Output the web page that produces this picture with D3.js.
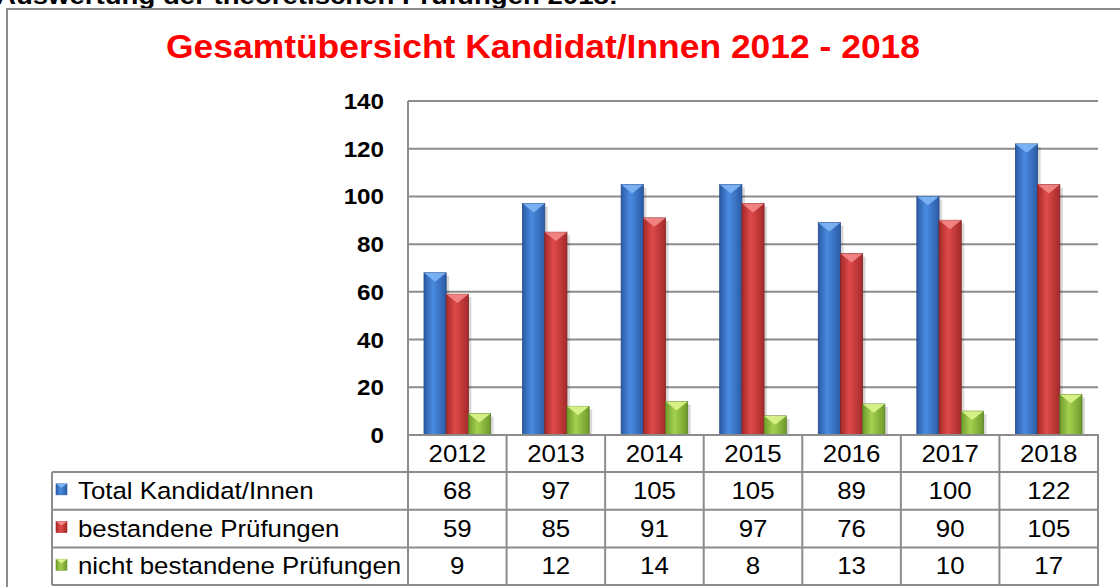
<!DOCTYPE html>
<html>
<head>
<meta charset="utf-8">
<script src="https://cdn.jsdelivr.net/npm/d3@7"></script>
<style>
  body { margin: 0; background: #fff; overflow: hidden; }
  svg { display: block; font-family: Arial, "Liberation Sans", sans-serif; }
</style>
</head>
<body>
<div id="chart"></div>
<script>
// data
var years = ["2012", "2013", "2014", "2015", "2016", "2017", "2018"];
var seriesNames = ["Total Kandidat/Innen", "bestandene Prüfungen", "nicht bestandene Prüfungen"];
var total = [68, 97, 105, 105, 89, 100, 122];
var passed = [59, 85, 91, 97, 76, 90, 105];
var failed = [9, 12, 14, 8, 13, 10, 17];
var yTicks = [0, 20, 40, 60, 80, 100, 120, 140];

var seriesValues = [total, passed, failed];
// colours: edge, middle, top bevel
var palette = [
    { dark: "#2b5ba6", light: "#4a8be0", top: "#7fb6f5" },
    { dark: "#a52a2a", light: "#df4a4a", top: "#f58a8a" },
    { dark: "#6e9a2c", light: "#a5d14f", top: "#dcf58c" }
];

var W = 1120, H = 587;
var sx = 1.1; // picture is a bit stretched horizontally
var gridCol = "#8c8c8c";

var svg = d3.select("#chart").append("svg")
    .attr("width", W).attr("height", H);

var defs = svg.append("defs");
palette.forEach(function (c, i) {
    var g = defs.append("linearGradient")
        .attr("id", "grad" + i)
        .attr("x1", "0%").attr("x2", "100%").attr("y1", "0%").attr("y2", "0%");
    g.append("stop").attr("offset", "0%").attr("stop-color", c.dark);
    g.append("stop").attr("offset", "40%").attr("stop-color", c.light);
    g.append("stop").attr("offset", "100%").attr("stop-color", c.dark);
});

// heading above the frame, cut off by the page top (as in the source)
svg.append("text")
    .attr("x", -4).attr("y", 4)
    .attr("font-size", 24).attr("font-weight", "bold").attr("fill", "#000")
    .attr("textLength", 622).attr("lengthAdjust", "spacingAndGlyphs")
    .text("Auswertung der theoretischen Prüfungen 2018:");

// frame
svg.append("rect")
    .attr("x", 7).attr("y", 9).attr("width", 1300).attr("height", 800)
    .attr("fill", "#fff").attr("stroke", gridCol).attr("stroke-width", 2);

// title
svg.append("text")
    .attr("x", 166).attr("y", 58)
    .attr("font-size", 33).attr("font-weight", "bold").attr("fill", "#ff0000")
    .attr("textLength", 754).attr("lengthAdjust", "spacingAndGlyphs")
    .text("Gesamtübersicht Kandidat/Innen 2012 - 2018");

// scales
var plotLeft = 408, plotRight = 1098, plotTop = 101, plotBottom = 435;
var x = d3.scaleBand().domain(years).range([plotLeft, plotRight]);
var xSub = d3.scaleBand().domain(d3.range(seriesNames.length))
    .range([16, x.bandwidth() - 16]);
var y = d3.scaleLinear().domain([0, 140]).range([plotBottom, plotTop]);

// grid lines
svg.append("g").selectAll("line")
    .data(yTicks.filter(function (d) { return d > 0; }))
    .enter().append("line")
    .attr("x1", plotLeft).attr("x2", plotRight)
    .attr("y1", function (d) { return y(d); })
    .attr("y2", function (d) { return y(d); })
    .attr("stroke", gridCol).attr("stroke-width", 2);

// y axis line
svg.append("line")
    .attr("x1", plotLeft).attr("x2", plotLeft)
    .attr("y1", plotTop).attr("y2", plotBottom)
    .attr("stroke", gridCol).attr("stroke-width", 2);

// y tick labels
svg.append("g").selectAll("text")
    .data(yTicks)
    .enter().append("text")
    .attr("transform", function (d) { return "translate(384," + (y(d) + 8) + ") scale(" + sx + ",1)"; })
    .attr("text-anchor", "end")
    .attr("font-size", 22).attr("font-weight", "bold").attr("fill", "#000")
    .text(function (d) { return d; });

// bars
var barData = [];
years.forEach(function (yr, i) {
    seriesValues.forEach(function (vals, s) {
        barData.push({ year: yr, s: s, v: vals[i] });
    });
});

var bars = svg.append("g").selectAll("g")
    .data(barData)
    .enter().append("g");

// shadow
bars.append("rect")
    .attr("x", function (d) { return x(d.year) + xSub(d.s) + 3; })
    .attr("y", function (d) { return y(d.v) + 3; })
    .attr("width", xSub.bandwidth())
    .attr("height", function (d) { return y(0) - y(d.v) - 3; })
    .attr("fill", "#000").attr("opacity", 0.15);

bars.append("rect")
    .attr("x", function (d) { return x(d.year) + xSub(d.s); })
    .attr("y", function (d) { return y(d.v); })
    .attr("width", xSub.bandwidth())
    .attr("height", function (d) { return y(0) - y(d.v); })
    .attr("fill", function (d) { return "url(#grad" + d.s + ")"; })
    .attr("stroke", function (d) { return d3.color(palette[d.s].dark).darker(0.6); })
    .attr("stroke-width", 0.8);

bars.append("path")
    .attr("d", function (d) {
        var x0 = x(d.year) + xSub(d.s), w = xSub.bandwidth(), t = y(d.v);
        var hh = Math.min(w * 0.4, (y(0) - t) / 2);
        return "M" + x0 + "," + t + "L" + (x0 + w) + "," + t + "L" + (x0 + w / 2) + "," + (t + hh) + "Z";
    })
    .attr("fill", function (d) { return palette[d.s].top; })
    .attr("opacity", 0.9);

// data table
var rowTop = 435, headH = 37, rowH = 37.7, tableLeft = 52;
var tbl = svg.append("g");
var tableBottom = rowTop + headH + rowH * 3;

// header row (years)
tbl.append("line")
    .attr("x1", plotLeft).attr("x2", plotRight + 1)
    .attr("y1", rowTop).attr("y2", rowTop)
    .attr("stroke", gridCol).attr("stroke-width", 2);
// horizontal lines of the data rows
d3.range(4).forEach(function (r) {
    var yy = rowTop + headH + r * rowH;
    tbl.append("line")
        .attr("x1", tableLeft).attr("x2", plotRight + 1)
        .attr("y1", yy).attr("y2", yy)
        .attr("stroke", gridCol).attr("stroke-width", 2);
});
// vertical lines
years.concat(["end"]).forEach(function (yr, i) {
    var xx = i < years.length ? x(yr) : plotRight;
    tbl.append("line")
        .attr("x1", xx).attr("x2", xx)
        .attr("y1", rowTop).attr("y2", tableBottom)
        .attr("stroke", gridCol).attr("stroke-width", 2);
});
tbl.append("line")
    .attr("x1", tableLeft).attr("x2", tableLeft)
    .attr("y1", rowTop + headH).attr("y2", tableBottom)
    .attr("stroke", gridCol).attr("stroke-width", 2);

// year labels
tbl.append("g").selectAll("text")
    .data(years)
    .enter().append("text")
    .attr("transform", function (d) { return "translate(" + (x(d) + x.bandwidth() / 2) + "," + (rowTop + 27) + ") scale(" + sx + ",1)"; })
    .attr("text-anchor", "middle")
    .attr("font-size", 23.5).attr("fill", "#000")
    .text(function (d) { return d; });

// rows
seriesNames.forEach(function (name, s) {
    var cy = rowTop + headH + s * rowH + rowH / 2;
    // legend key
    var kx = 56, kw = 11;
    tbl.append("rect")
        .attr("x", kx).attr("y", cy - 7).attr("width", kw).attr("height", kw)
        .attr("fill", "url(#grad" + s + ")")
        .attr("stroke", palette[s].dark).attr("stroke-width", 0.6);
    tbl.append("path")
        .attr("d", "M" + kx + "," + (cy - 7) + "L" + (kx + kw) + "," + (cy - 7) + "L" + (kx + kw / 2) + "," + (cy - 3) + "Z")
        .attr("fill", palette[s].top);
    tbl.append("text")
        .attr("transform", "translate(78," + (cy + 8) + ") scale(" + sx + ",1)")
        .attr("font-size", 23.5).attr("fill", "#000")
        .text(name);
    tbl.append("g").selectAll("text")
        .data(seriesValues[s])
        .enter().append("text")
        .attr("transform", function (d, i) { return "translate(" + (x(years[i]) + x.bandwidth() / 2) + "," + (cy + 8) + ") scale(" + sx + ",1)"; })
        .attr("text-anchor", "middle")
        .attr("font-size", 23.5).attr("fill", "#000")
        .text(function (d) { return d; });
});
</script>
</body>
</html>
